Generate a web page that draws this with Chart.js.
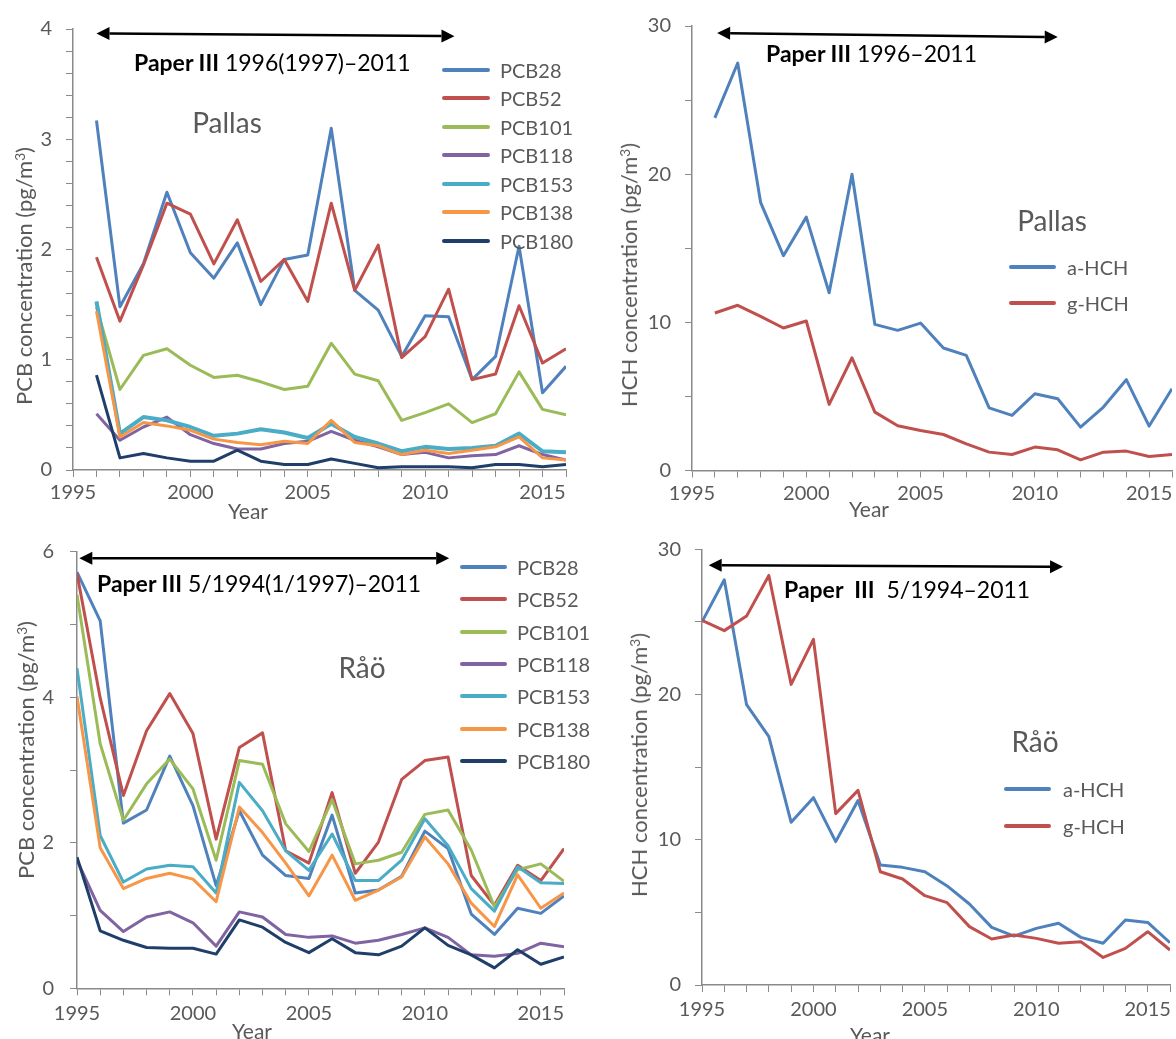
<!DOCTYPE html>
<html lang="en">
<head>
  <meta charset="utf-8" />
  <title>PCB and HCH in air – Pallas and Råö</title>
  <script src="https://cdn.jsdelivr.net/npm/chart.js@4.4.1/dist/chart.umd.min.js"></script>
  <style>
    * { margin: 0; padding: 0; box-sizing: border-box; }
    body {
      width: 1176px; height: 1039px; position: relative; overflow: hidden;
      background: #fff; font-family: "Lato", sans-serif; color: #595959;
    }
    canvas { position: absolute; }
    .t { position: absolute; white-space: nowrap; line-height: 1; }
    .c { transform: translate(-50%, -50%); }
    .ytitle { font-size: 22px; transform: translate(-50%, -50%) rotate(-90deg); }
    .ytitle sup { font-size: 0.62em; vertical-align: 0.55em; line-height: 0; }
    .paper { color: #000; font-size: 23px; transform: translateY(-50%); }
    .paper b { font-weight: 700; }
    .site { font-size: 28px; }
    .year { font-size: 21px; }
    .leg { position: absolute; font-size: 20px; line-height: 1; white-space: nowrap; }
    .leg i { position: absolute; height: 4px; border-radius: 2px; }
    .leg span { position: absolute; transform: translateY(-50%); }
  </style>
</head>
<body>
  <canvas id="pcbPallas" width="570" height="520" style="left:0;top:0"></canvas>
  <canvas id="hchPallas" width="556" height="520" style="left:620px;top:0"></canvas>
  <canvas id="pcbRao" width="570" height="519" style="left:0;top:520px"></canvas>
  <canvas id="hchRao" width="556" height="519" style="left:620px;top:520px"></canvas>

  <!-- axis titles -->
  <div class="t ytitle" style="left:24px;top:276px">PCB concentration (pg/m<sup>3</sup>)</div>
  <div class="t ytitle" style="left:629px;top:275px">HCH concentration (pg/m<sup>3</sup>)</div>
  <div class="t ytitle" style="left:26px;top:750px">PCB concentration (pg/m<sup>3</sup>)</div>
  <div class="t ytitle" style="left:639px;top:765px">HCH concentration (pg/m<sup>3</sup>)</div>
  <div class="t c year" style="left:248px;top:510px">Year</div>
  <div class="t c year" style="left:869px;top:508px">Year</div>
  <div class="t c year" style="left:252px;top:1030px">Year</div>
  <div class="t c year" style="left:870px;top:1034px">Year</div>

  <!-- period notes and site names -->
  <div class="t paper" style="left:134px;top:62px"><b>Paper III</b> 1996(1997)–2011</div>
  <div class="t paper" style="left:766px;top:53px"><b>Paper III</b> 1996–2011</div>
  <div class="t paper" style="left:97px;top:583px"><b>Paper III</b> 5/1994(1/1997)–2011</div>
  <div class="t paper" style="left:784px;top:589px"><b>Paper&nbsp; III</b>&nbsp; 5/1994–2011</div>
  <div class="t c site" style="left:227px;top:122px">Pallas</div>
  <div class="t c site" style="left:1052px;top:220px">Pallas</div>
  <div class="t c site" style="left:362px;top:667px">Råö</div>
  <div class="t c site" style="left:1035px;top:741px">Råö</div>

  <script>
    // sampling years
    const yearsPallas = [1996, 1997, 1998, 1999, 2000, 2001, 2002, 2003, 2004, 2005, 2006,
      2007, 2008, 2009, 2010, 2011, 2012, 2013, 2014, 2015, 2016];
    const yearsRao = [1995, 1996, 1997, 1998, 1999, 2000, 2001, 2002, 2003, 2004, 2005, 2006,
      2007, 2008, 2009, 2010, 2011, 2012, 2013, 2014, 2015, 2016];

    const pcbNames = ["PCB28", "PCB52", "PCB101", "PCB118", "PCB153", "PCB138", "PCB180"];
    const pcbColors = ["#4f81bd", "#c0504d", "#9bbb59", "#8064a2", "#4bacc6", "#f79646", "#1f3f6a"];
    const hchNames = ["a-HCH", "g-HCH"];
    const hchColors = ["#4f81bd", "#c0504d"];

    // Pallas, PCB (pg/m3)
    const pallasPcb28  = [3.17, 1.48, 1.87, 2.52, 1.97, 1.74, 2.06, 1.50, 1.91, 1.95, 3.10, 1.63, 1.45, 1.03, 1.40, 1.39, 0.82, 1.03, 2.03, 0.70, 0.94];
    const pallasPcb52  = [1.93, 1.35, 1.86, 2.42, 2.32, 1.87, 2.27, 1.71, 1.91, 1.53, 2.42, 1.63, 2.04, 1.02, 1.21, 1.64, 0.82, 0.87, 1.49, 0.97, 1.10];
    const pallasPcb101 = [1.48, 0.73, 1.04, 1.10, 0.95, 0.84, 0.86, 0.80, 0.73, 0.76, 1.15, 0.87, 0.81, 0.45, 0.52, 0.60, 0.43, 0.51, 0.89, 0.55, 0.50];
    const pallasPcb118 = [0.51, 0.27, 0.39, 0.48, 0.32, 0.24, 0.19, 0.19, 0.24, 0.26, 0.35, 0.27, 0.21, 0.14, 0.16, 0.11, 0.13, 0.14, 0.22, 0.14, 0.09];
    const pallasPcb153 = [1.53, 0.33, 0.48, 0.45, 0.39, 0.31, 0.33, 0.37, 0.34, 0.29, 0.42, 0.30, 0.24, 0.17, 0.21, 0.19, 0.20, 0.22, 0.33, 0.17, 0.16];
    const pallasPcb138 = [1.44, 0.30, 0.43, 0.40, 0.36, 0.28, 0.25, 0.23, 0.26, 0.24, 0.45, 0.25, 0.22, 0.14, 0.18, 0.15, 0.18, 0.21, 0.30, 0.11, 0.09];
    const pallasPcb180 = [0.86, 0.11, 0.15, 0.11, 0.08, 0.08, 0.18, 0.08, 0.05, 0.05, 0.10, 0.06, 0.02, 0.03, 0.03, 0.03, 0.02, 0.05, 0.05, 0.03, 0.05];

    // Pallas, HCH (pg/m3)
    const pallasAHch = [23.8, 27.5, 18.1, 14.5, 17.1, 12.0, 20.0, 9.86, 9.46, 9.95, 8.27, 7.77, 4.23, 3.72, 5.18, 4.84, 2.93, 4.28, 6.13, 3.00, 5.52];
    const pallasGHch = [10.63, 11.15, 10.4, 9.62, 10.09, 4.46, 7.61, 3.94, 3.02, 2.70, 2.43, 1.80, 1.24, 1.08, 1.58, 1.40, 0.72, 1.24, 1.31, 0.95, 1.08];

    // Råö, PCB (pg/m3)
    const raoPcb28  = [5.72, 5.05, 2.27, 2.45, 3.19, 2.51, 1.41, 2.44, 1.83, 1.55, 1.51, 2.38, 1.31, 1.35, 1.54, 2.16, 1.92, 1.02, 0.74, 1.10, 1.03, 1.27];
    const raoPcb52  = [5.70, 3.99, 2.65, 3.54, 4.05, 3.50, 2.05, 3.31, 3.51, 1.89, 1.72, 2.69, 1.58, 2.01, 2.87, 3.13, 3.18, 1.55, 1.14, 1.69, 1.48, 1.92];
    const raoPcb101 = [5.41, 3.36, 2.31, 2.81, 3.15, 2.74, 1.76, 3.13, 3.08, 2.26, 1.88, 2.59, 1.71, 1.76, 1.87, 2.39, 2.45, 1.90, 1.12, 1.63, 1.71, 1.47];
    const raoPcb118 = [1.76, 1.07, 0.78, 0.98, 1.05, 0.90, 0.58, 1.05, 0.98, 0.74, 0.70, 0.72, 0.62, 0.66, 0.74, 0.83, 0.70, 0.46, 0.44, 0.48, 0.62, 0.57];
    const raoPcb153 = [4.40, 2.10, 1.46, 1.64, 1.69, 1.67, 1.31, 2.83, 2.44, 1.89, 1.62, 2.12, 1.48, 1.48, 1.76, 2.33, 1.96, 1.37, 1.06, 1.67, 1.45, 1.44];
    const raoPcb138 = [4.01, 1.93, 1.37, 1.51, 1.58, 1.50, 1.19, 2.49, 2.14, 1.72, 1.27, 1.83, 1.21, 1.35, 1.53, 2.08, 1.71, 1.17, 0.85, 1.56, 1.10, 1.31];
    const raoPcb180 = [1.80, 0.79, 0.66, 0.56, 0.55, 0.55, 0.47, 0.94, 0.84, 0.63, 0.49, 0.68, 0.49, 0.46, 0.58, 0.83, 0.59, 0.46, 0.28, 0.53, 0.33, 0.43];

    // Råö, HCH (pg/m3)
    const raoAHch = [25.0, 27.9, 19.3, 17.1, 11.2, 12.9, 9.87, 12.7, 8.26, 8.10, 7.80, 6.82, 5.58, 3.97, 3.37, 3.90, 4.25, 3.28, 2.87, 4.48, 4.31, 2.91];
    const raoGHch = [25.1, 24.4, 25.4, 28.2, 20.7, 23.8, 11.8, 13.4, 7.80, 7.30, 6.15, 5.67, 4.02, 3.17, 3.44, 3.21, 2.87, 2.98, 1.90, 2.52, 3.67, 2.41];

    Chart.defaults.font.family = "Lato";
    Chart.defaults.font.size = 20;
    Chart.defaults.color = "#595959";

    const AXIS = "#8a8a8a";

    // double-headed arrow marking the period covered by Paper III
    const periodArrow = {
      id: "periodArrow",
      afterDatasetsDraw(chart, args, o) {
        if (!o || o.x0 === undefined) return;
        const { ctx, scales: { x, y } } = chart;
        const ax = x.getPixelForValue(o.x0), ay = y.getPixelForValue(o.y0);
        const bx = x.getPixelForValue(o.x1), by = y.getPixelForValue(o.y1);
        const a = Math.atan2(by - ay, bx - ax), c = Math.cos(a), s = Math.sin(a);
        const L = 13, W = 6.5;
        ctx.save();
        ctx.strokeStyle = ctx.fillStyle = "#000";
        ctx.lineWidth = 2.5;
        ctx.beginPath();
        ctx.moveTo(ax + L * c, ay + L * s);
        ctx.lineTo(bx - L * c, by - L * s);
        ctx.stroke();
        const head = (px, py, dc, ds) => {
          ctx.beginPath();
          ctx.moveTo(px, py);
          ctx.lineTo(px - L * dc + W * ds, py - L * ds - W * dc);
          ctx.lineTo(px - L * dc - W * ds, py - L * ds + W * dc);
          ctx.closePath();
          ctx.fill();
        };
        head(bx, by, c, s);
        head(ax, ay, -c, -s);
        ctx.restore();
      }
    };
    Chart.register(periodArrow);

    function makePanel(p) {
      const n = p.series.length;
      const datasets = p.series.map((vals, i) => ({
        label: p.names[i],
        data: p.years.map((yr, k) => ({ x: yr, y: vals[k] })),
        borderColor: p.colors[i],
        borderWidth: p.widths ? p.widths[i] : 3,
        pointRadius: 0,
        tension: 0,
        fill: false,
        borderJoinStyle: "round",
        order: n - i
      }));

      new Chart(document.getElementById(p.id), {
        type: "line",
        data: { datasets },
        options: {
          responsive: false,
          animation: false,
          layout: { padding: { top: p.padTop, right: p.padRight, left: 0, bottom: 0 } },
          plugins: {
            legend: { display: false },
            tooltip: { enabled: false },
            periodArrow: p.arrow
          },
          scales: {
            x: {
              type: "linear",
              min: 1995, max: 2016,
              grid: { drawOnChartArea: false, drawTicks: true, tickLength: 7, color: AXIS },
              border: { display: true, color: AXIS, width: 1.5 },
              ticks: {
                stepSize: 1, autoSkip: false, maxRotation: 0, padding: p.xPad,
                callback: v => (v % 5 === 0 ? String(v) : "")
              },
              afterFit: s => { s.height = p.axisH; }
            },
            y: {
              min: 0, max: p.yMax,
              grid: { drawOnChartArea: false, drawTicks: true, tickLength: 7, color: AXIS },
              border: { display: true, color: AXIS, width: 1.5 },
              ticks: {
                stepSize: p.yStep, autoSkip: false, padding: p.yPad,
                callback: v => {
                  const r = Math.round(v / p.yLabel) * p.yLabel;
                  return Math.abs(v - r) < 1e-6 ? String(Math.round(r)) : "";
                }
              },
              afterFit: s => { s.width = p.axisW; }
            }
          }
        }
      });

      // legend drawn from the same names / colours
      const box = document.getElementById(p.id);
      const ox = parseFloat(box.style.left) || 0, oy = parseFloat(box.style.top) || 0;
      p.names.forEach((name, i) => {
        const row = document.createElement("div");
        row.className = "leg";
        const y = p.legend.y0 + i * p.legend.dy;
        row.innerHTML =
          `<i style="left:${p.legend.x0}px;top:${y - 2}px;width:${p.legend.len}px;background:${p.colors[i]}"></i>` +
          `<span style="left:${p.legend.tx}px;top:${y}px">${name}</span>`;
        document.body.appendChild(row);
      });
    }

    makePanel({
      id: "pcbPallas", years: yearsPallas, names: pcbNames, colors: pcbColors,
      series: [pallasPcb28, pallasPcb52, pallasPcb101, pallasPcb118, pallasPcb153, pallasPcb138, pallasPcb180],
      widths: [3, 3, 3, 3, 4, 3, 3],
      yMax: 4, yStep: 0.2, yLabel: 1,
      axisW: 73, axisH: 50, padTop: 29, padRight: 4, xPad: 4, yPad: 14,
      arrow: { x0: 1996, x1: 2011.25, y0: 3.96, y1: 3.935 },
      legend: { x0: 442, len: 48, tx: 500, y0: 70, dy: 28.45 }
    });

    makePanel({
      id: "hchPallas", years: yearsPallas, names: hchNames, colors: hchColors,
      series: [pallasAHch, pallasGHch],
      yMax: 30, yStep: 5, yLabel: 10,
      axisW: 72, axisH: 49.5, padTop: 26, padRight: 4, xPad: 4, yPad: 14,
      arrow: { x0: 1996.1, x1: 2011, y0: 29.52, y1: 29.25 },
      legend: { x0: 1009, len: 47, tx: 1067, y0: 267, dy: 36 }
    });

    makePanel({
      id: "pcbRao", years: yearsRao, names: pcbNames, colors: pcbColors,
      series: [raoPcb28, raoPcb52, raoPcb101, raoPcb118, raoPcb153, raoPcb138, raoPcb180],
      yMax: 6, yStep: 1, yLabel: 2,
      axisW: 77, axisH: 50.7, padTop: 31.7, padRight: 5, xPad: 6, yPad: 16,
      arrow: { x0: 1995.1, x1: 2011.05, y0: 5.91, y1: 5.91 },
      legend: { x0: 460, len: 47, tx: 517, y0: 566.7, dy: 32.4 }
    });

    makePanel({
      id: "hchRao", years: yearsRao, names: hchNames, colors: hchColors,
      series: [raoAHch, raoGHch],
      yMax: 30, yStep: 5, yLabel: 10,
      axisW: 82, axisH: 54, padTop: 29.3, padRight: 1, xPad: 6, yPad: 14,
      arrow: { x0: 1995.3, x1: 2011.2, y0: 28.9, y1: 28.8 },
      legend: { x0: 1004, len: 47, tx: 1063, y0: 789, dy: 37 }
    });
  </script>
</body>
</html>
